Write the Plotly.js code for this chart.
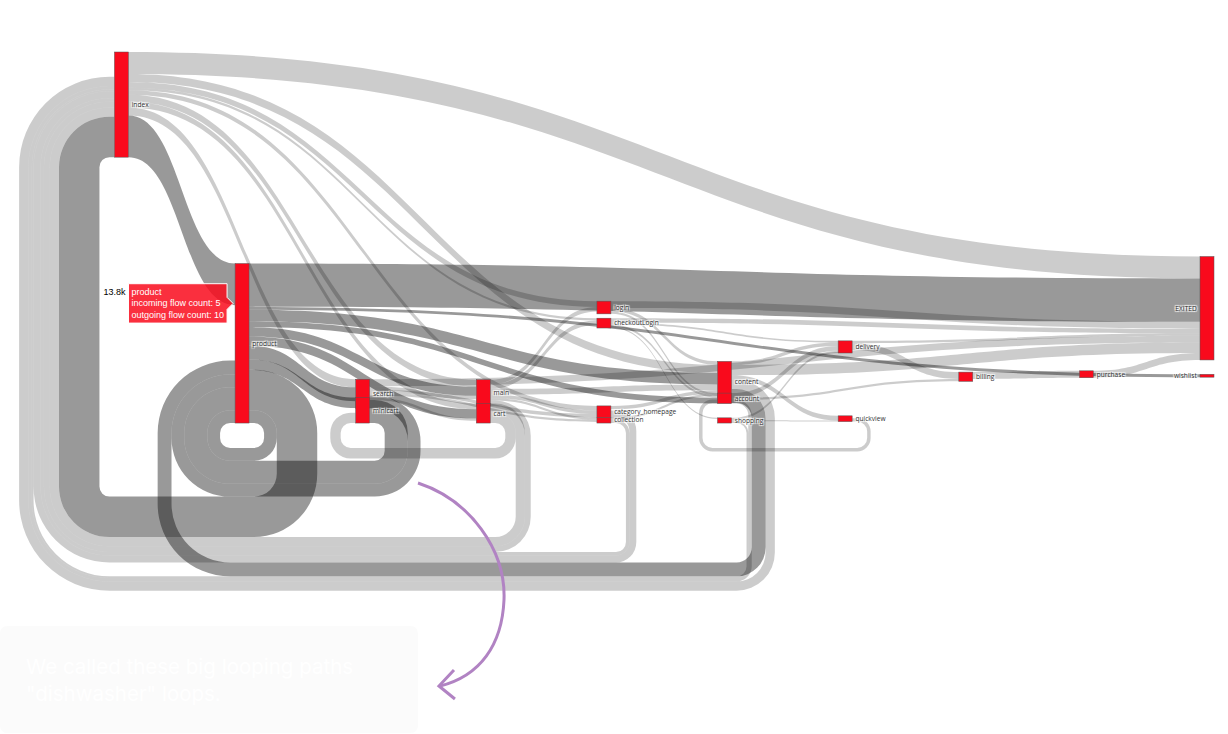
<!DOCTYPE html>
<html>
<head>
<meta charset="utf-8">
<script src="https://cdn.plot.ly/plotly-3.0.1.min.js"></script>
<style>
  html, body { margin: 0; padding: 0; background: #fff; }
  #chart { width: 1228px; height: 734px; }
</style>
</head>
<body>
<div id="chart"></div>
<script>
// ---- data ----
const nodeLabels = ["index", "product", "search", "minicart", "main", "cart",
  "login", "checkoutLogin", "category_homepage", "collection",
  "content", "account", "shopping", "delivery", "quickview",
  "billing", "purchase", "wishlist", "EXITED"];

const linkSource = [
  "index","index","index","index","index","index","index","index","index",
  "product","product","product","product","product","product","product","product","product","product",
  "search","search","search","search","search",
  "minicart","minicart",
  "main","main","main","main","main","main",
  "cart","cart",
  "login","login","login",
  "checkoutLogin","checkoutLogin","checkoutLogin","checkoutLogin",
  "category_homepage","category_homepage",
  "collection","collection",
  "content","content","content","content","content",
  "account","account","account",
  "shopping","shopping","shopping",
  "delivery","delivery",
  "quickview",
  "billing",
  "purchase"
];
const linkTarget = [
  "EXITED","product","search","main","cart","login","checkoutLogin","category_homepage","content",
  "index","EXITED","wishlist","content","account","main","cart","search","minicart","product",
  "product","EXITED","main","category_homepage","collection",
  "product","cart",
  "login","checkoutLogin","content","category_homepage","collection","index",
  "index","minicart",
  "content","account","EXITED",
  "account","shopping","delivery","EXITED",
  "content","index",
  "index","content",
  "EXITED","product","index","delivery","quickview",
  "delivery","billing","index",
  "delivery","quickview","index",
  "billing","EXITED",
  "content",
  "purchase",
  "EXITED"
];
const linkValue = [
  1900,3600,700,600,500,500,200,400,700,
  3500,3750,250,1000,500,800,800,1200,900,1100,
  1100,600,300,300,200,
  2000,200,
  400,400,500,300,200,500,
  800,900,
  300,200,600,
  200,100,150,400,
  300,600,
  300,200,
  900,1200,800,300,400,
  400,200,300,
  200,100,150,
  600,200,
  300,
  600,
  600
];

const hoveredNode = "product";
const noteText = "We called these big looping paths<br>\"dishwasher\" loops.";

// ---- figure ----
const W = 1228, H = 734;
const M = {l: 3, r: 14, t: 52, b: 176};
const plotW = W - M.l - M.r, plotH = H - M.t - M.b;
const px = x => ((x - M.l) / plotW).toFixed(4);
const py = y => ((H - M.b - y) / plotH).toFixed(4);

const idx = name => nodeLabels.indexOf(name);

const trace = {
  type: "sankey",
  arrangement: "snap",
  valueformat: ".3s",
  node: {
    label: nodeLabels,
    color: "rgb(249,10,28)",
    line: {color: "#555", width: 0.5},
    thickness: 14,
    pad: 10
  },
  link: {
    source: linkSource.map(idx),
    target: linkTarget.map(idx),
    value: linkValue
  },
  textfont: {size: 6.6, family: "Open Sans", color: "#333"},
  hoverlabel: {font: {size: 9, family: "Arial"}, align: "left"}
};

const arrowPath = "M" + px(418) + "," + py(483) +
  " C" + px(470) + "," + py(500) + " " + px(506) + "," + py(550) + " " + px(504) + "," + py(600) +
  " C" + px(502) + "," + py(645) + " " + px(480) + "," + py(676) + " " + px(440) + "," + py(686);
const arrowHead = "M" + px(454) + "," + py(670) + " L" + px(439) + "," + py(686) + " L" + px(455) + "," + py(699);

const bx0 = 0, bx1 = 418, by0 = 626, by1 = 733, rr = 8;
const boxPath = "M" + px(bx0 + rr) + "," + py(by0) +
  " L" + px(bx1 - rr) + "," + py(by0) +
  " Q" + px(bx1) + "," + py(by0) + " " + px(bx1) + "," + py(by0 + rr) +
  " L" + px(bx1) + "," + py(by1 - rr) +
  " Q" + px(bx1) + "," + py(by1) + " " + px(bx1 - rr) + "," + py(by1) +
  " L" + px(bx0 + rr) + "," + py(by1) +
  " Q" + px(bx0) + "," + py(by1) + " " + px(bx0) + "," + py(by1 - rr) +
  " L" + px(bx0) + "," + py(by0 + rr) +
  " Q" + px(bx0) + "," + py(by0) + " " + px(bx0 + rr) + "," + py(by0) + " Z";

const layout = {
  width: W, height: H,
  margin: M,
  paper_bgcolor: "#fff",
  font: {family: "Open Sans", size: 7},
  shapes: [
    {type: "path", xref: "paper", yref: "paper", path: boxPath,
     fillcolor: "#fbfbfb", line: {width: 0}, layer: "above"},
    {type: "path", xref: "paper", yref: "paper", path: arrowPath,
     line: {color: "#b183c3", width: 3}, layer: "above"},
    {type: "path", xref: "paper", yref: "paper", path: arrowHead,
     line: {color: "#b183c3", width: 3}, layer: "above"}
  ],
  annotations: [
    {xref: "paper", yref: "paper", x: px(24), y: py(680), xanchor: "left", yanchor: "middle",
     align: "left", showarrow: false, text: noteText,
     font: {family: "Inter", size: 20.5, color: "#ffffff"}}
  ]
};

const gd = document.getElementById("chart");
Plotly.newPlot(gd, [trace], layout, {displayModeBar: false, responsive: false}).then(function () {
  let target = null;
  gd.querySelectorAll(".sankey-node").forEach(function (n) {
    const t = n.querySelector(".node-label");
    if (t && t.textContent.trim() === hoveredNode) target = n;
  });
  if (target) {
    const r = target.getBoundingClientRect();
    const opts = {bubbles: true, cancelable: true, view: window,
      clientX: r.left + r.width / 2, clientY: r.top + r.height / 2};
    target.dispatchEvent(new MouseEvent("mouseover", opts));
    target.dispatchEvent(new MouseEvent("mousemove", opts));
  }
});
</script>
</body>
</html>
